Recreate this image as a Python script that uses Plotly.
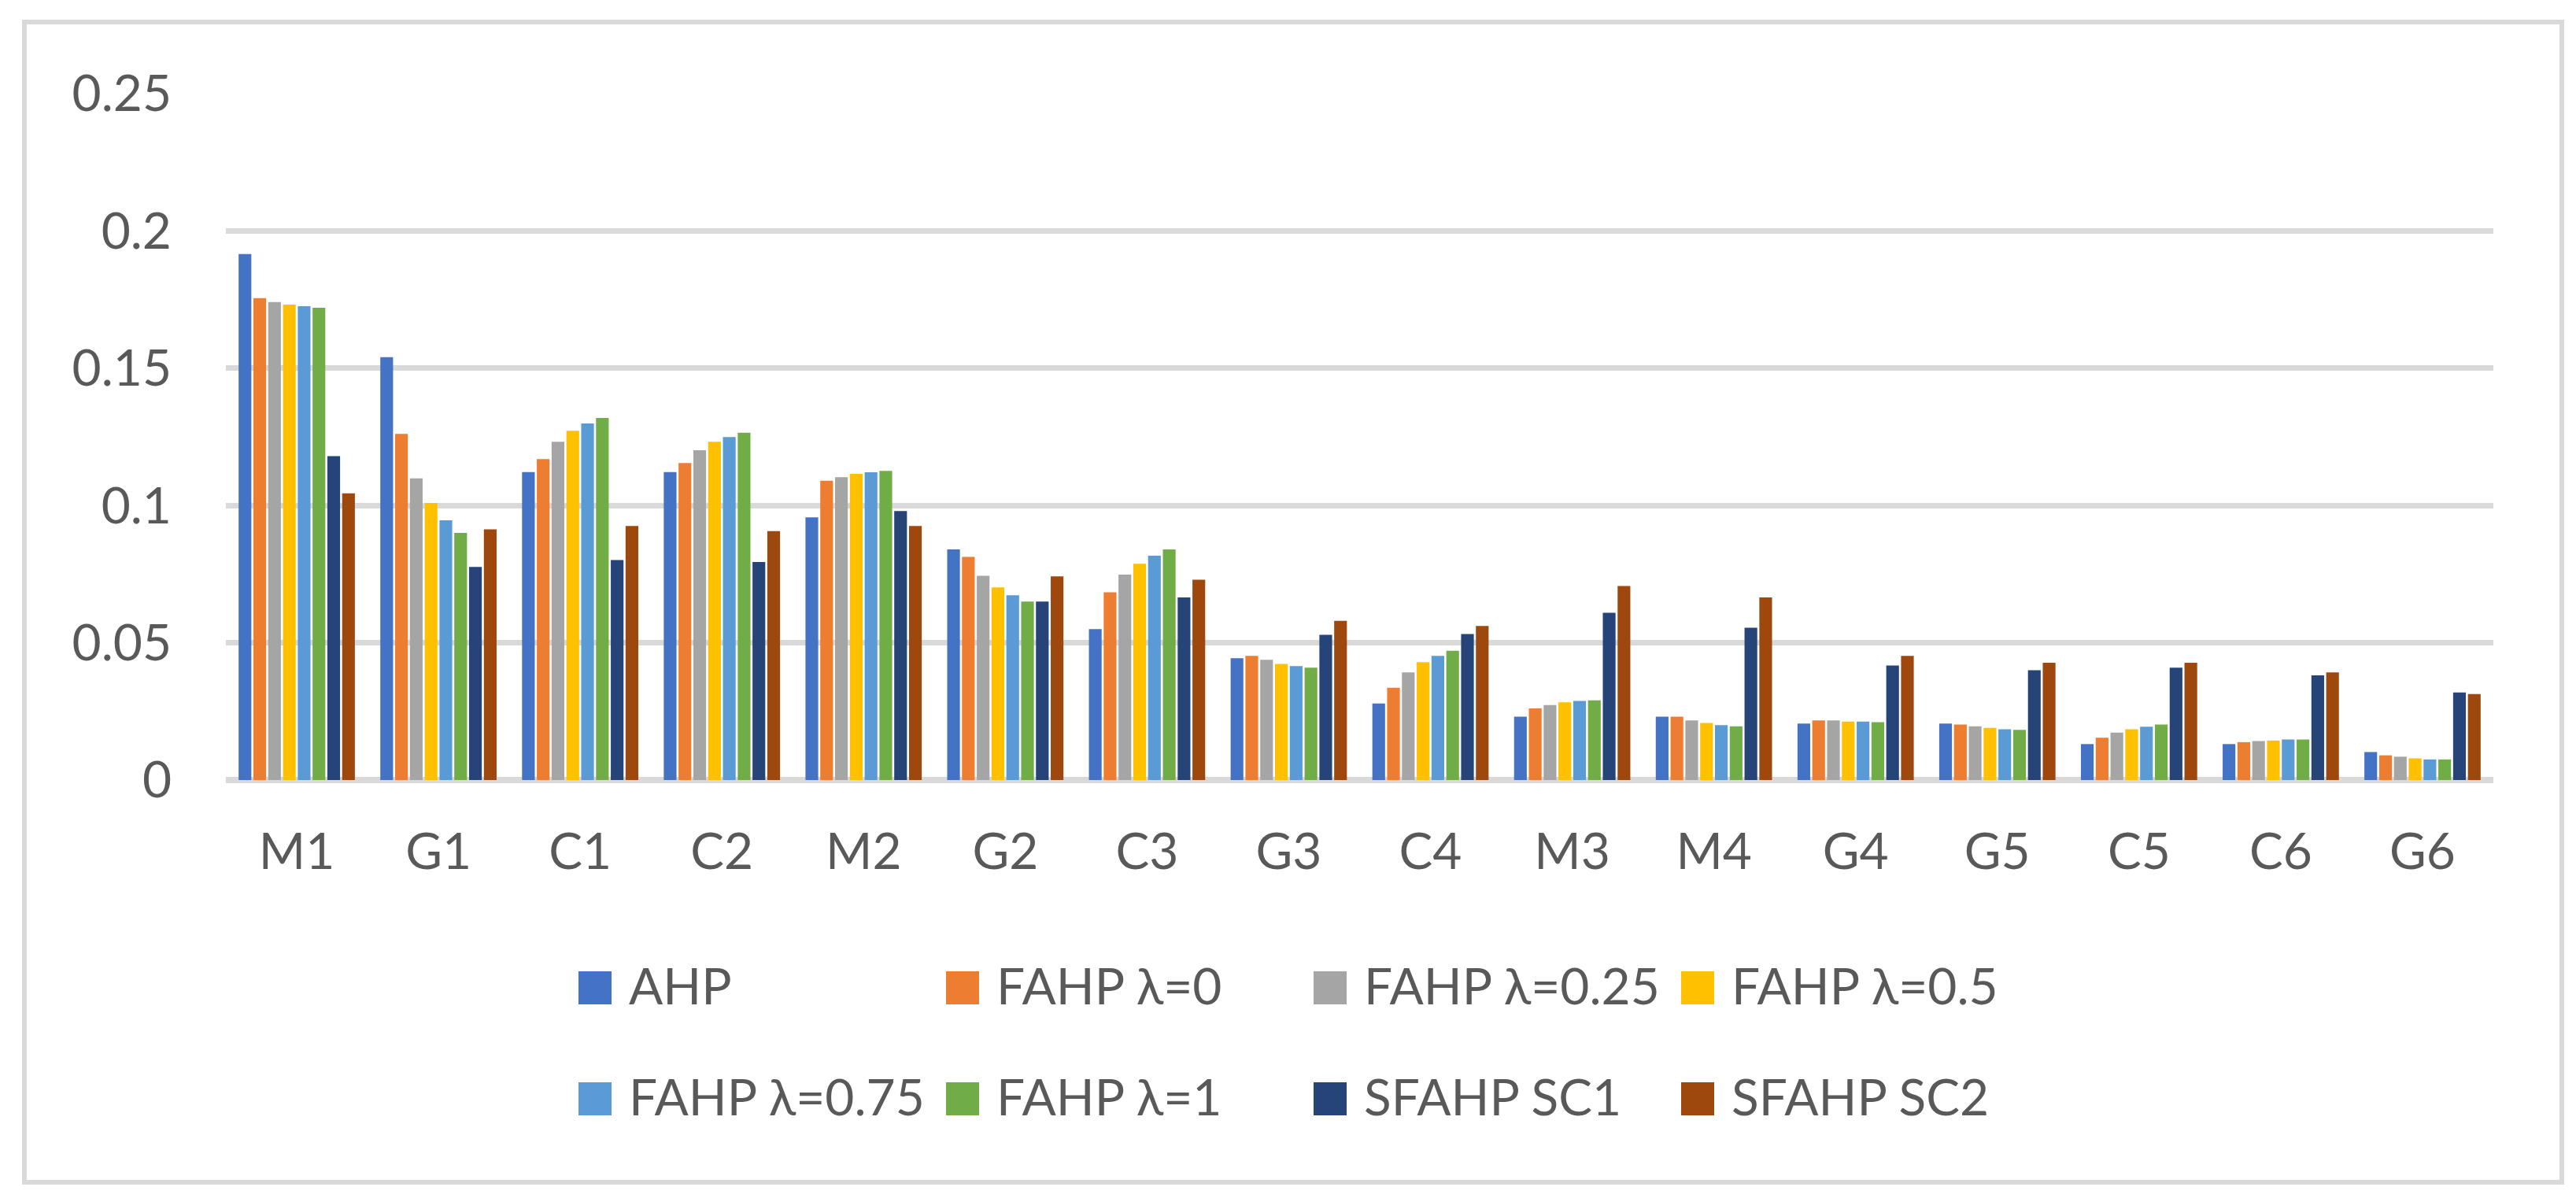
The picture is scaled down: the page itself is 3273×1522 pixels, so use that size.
import plotly.graph_objects as go

categories = ["M1", "G1", "C1", "C2", "M2", "G2", "C3", "G3", "C4", "M3", "M4", "G4", "G5", "C5", "C6", "G6"]

ahp       = [0.1916, 0.1540, 0.1122, 0.1122, 0.0957, 0.0840, 0.0550, 0.0444, 0.0279, 0.0231, 0.0231, 0.0206, 0.0206, 0.0131, 0.0131, 0.0102]
fahp_0    = [0.1755, 0.1261, 0.1169, 0.1155, 0.1090, 0.0813, 0.0684, 0.0452, 0.0336, 0.0261, 0.0231, 0.0217, 0.0202, 0.0154, 0.0138, 0.0090]
fahp_025  = [0.1741, 0.1099, 0.1232, 0.1201, 0.1103, 0.0744, 0.0748, 0.0438, 0.0392, 0.0273, 0.0217, 0.0217, 0.0196, 0.0173, 0.0142, 0.0085]
fahp_05   = [0.1732, 0.1009, 0.1272, 0.1232, 0.1115, 0.0702, 0.0788, 0.0423, 0.0429, 0.0283, 0.0208, 0.0213, 0.0190, 0.0185, 0.0144, 0.0079]
fahp_075  = [0.1726, 0.0946, 0.1299, 0.1249, 0.1121, 0.0673, 0.0817, 0.0415, 0.0452, 0.0288, 0.0200, 0.0213, 0.0185, 0.0194, 0.0148, 0.0075]
fahp_1    = [0.1720, 0.0900, 0.1319, 0.1265, 0.1126, 0.0650, 0.0840, 0.0409, 0.0471, 0.0290, 0.0196, 0.0211, 0.0183, 0.0202, 0.0148, 0.0075]
sfahp_sc1 = [0.1180, 0.0776, 0.0801, 0.0794, 0.0980, 0.0650, 0.0665, 0.0529, 0.0532, 0.0609, 0.0555, 0.0417, 0.0400, 0.0409, 0.0381, 0.0319]
sfahp_sc2 = [0.1044, 0.0913, 0.0925, 0.0907, 0.0925, 0.0742, 0.0730, 0.0580, 0.0561, 0.0707, 0.0665, 0.0452, 0.0427, 0.0427, 0.0392, 0.0313]

series_names = ["AHP", "FAHP λ=0", "FAHP λ=0.25", "FAHP λ=0.5",
                "FAHP λ=0.75", "FAHP λ=1", "SFAHP SC1", "SFAHP SC2"]
series_values = [ahp, fahp_0, fahp_025, fahp_05, fahp_075, fahp_1, sfahp_sc1, sfahp_sc2]
colors = ["#4472C4", "#ED7D31", "#A5A5A5", "#FFC000",
          "#5B9BD5", "#70AD47", "#264478", "#9E480E"]

y_tickvals = [0, 0.05, 0.1, 0.15, 0.2, 0.25]
y_ticktext = ["0", "0.05", "0.1", "0.15", "0.2", "0.25"]

W, H = 3273, 1522
L, R = 279, 3160     # plot area left/right in px
T, B = 111, 983      # plot area top/bottom in px
FONT = "Lato"
FS = 64
TXT = "#595959"
GRID = "#D9D9D9"

def px_x(px):
    return (px - L) / (R - L)

def px_y(py):
    return (B - py) / (B - T)

fig = go.Figure()
for name, vals, col in zip(series_names, series_values, colors):
    fig.add_trace(go.Bar(x=categories, y=vals, name=name,
                         marker=dict(color=col, line=dict(width=0)),
                         showlegend=False))

shapes = []
annotations = []
# outer chart border
shapes.append(dict(type="rect", xref="paper", yref="paper",
                   x0=px_x(23), x1=px_x(3247), y0=px_y(1494), y1=px_y(20),
                   line=dict(color=GRID, width=6), fillcolor="rgba(0,0,0,0)", layer="below"))

# manual legend (4 columns x 2 rows)
col_x = [727, 1194, 1661, 2128]
row_y = [1247, 1388]
sw = 42
for i, (name, col) in enumerate(zip(series_names, colors)):
    cx = col_x[i % 4]
    cy = row_y[i // 4]
    shapes.append(dict(type="rect", xref="paper", yref="paper",
                       x0=px_x(cx), x1=px_x(cx + sw),
                       y0=px_y(cy + sw / 2), y1=px_y(cy - sw / 2),
                       fillcolor=col, line=dict(width=0)))
    annotations.append(dict(xref="paper", yref="paper", x=px_x(cx + 62), y=px_y(cy - 4),
                            text=name, showarrow=False, xanchor="left", yanchor="middle",
                            font=dict(family=FONT, size=FS, color=TXT)))

fig.update_layout(
    width=W, height=H,
    margin=dict(l=L, r=W - R, t=T, b=H - B, pad=0),
    paper_bgcolor="white", plot_bgcolor="white",
    barmode="group", bargap=0.165, bargroupgap=0.14,
    font=dict(family=FONT, size=FS, color=TXT),
    showlegend=False,
    shapes=shapes, annotations=annotations,
    xaxis=dict(showgrid=False, showline=False, ticks="", zeroline=False,
               tickfont=dict(family=FONT, size=FS, color=TXT),
               ticklabelstandoff=48),
    yaxis=dict(range=[0, 0.25], tickvals=y_tickvals, ticktext=y_ticktext,
               showgrid=True, gridcolor=GRID, gridwidth=7,
               zeroline=True, zerolinecolor=GRID, zerolinewidth=8,
               showline=False, ticks="",
               tickfont=dict(family=FONT, size=FS, color=TXT),
               ticklabelstandoff=68),
)

fig.write_html("out.html")
